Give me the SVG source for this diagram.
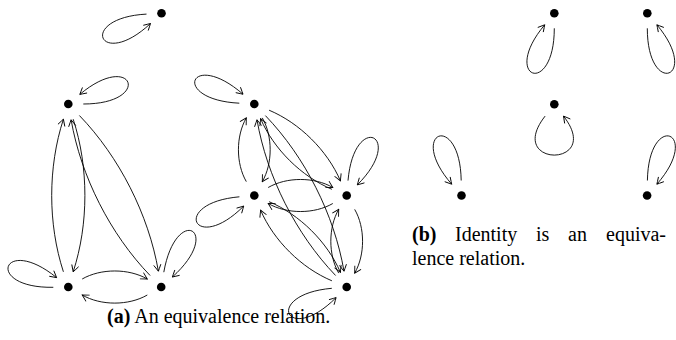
<svg xmlns="http://www.w3.org/2000/svg" width="676" height="340" viewBox="0 0 676 340">
<defs>
<marker id="ah" viewBox="-8 -5 9 10" markerWidth="9" markerHeight="10" refX="0" refY="0" orient="auto" markerUnits="userSpaceOnUse">
<path d="M-6.5,-3.6 Q-1.6,-0.9 0,0 Q-1.6,0.9 -6.5,3.6" fill="none" stroke="#000" stroke-width="0.9"/>
</marker>
<style>
.e{fill:none;stroke:#000;stroke-width:0.9;marker-end:url(#ah)}
.n{fill:#000}
.t{font-family:"Liberation Serif","Times New Roman",serif;font-size:20px;fill:#000}
.b{font-weight:bold}
</style>
</defs>
<rect width="676" height="340" fill="#fff"/>
<g id="nodes">
<g id="A"><circle class="n" cx="161.5" cy="13.3" r="4.3"/></g>
<g id="B"><circle class="n" cx="68.3" cy="104" r="4.3"/></g>
<g id="C"><circle class="n" cx="68.3" cy="287" r="4.3"/></g>
<g id="D"><circle class="n" cx="161.2" cy="287" r="4.3"/></g>
<g id="E"><circle class="n" cx="254.3" cy="104" r="4.3"/></g>
<g id="F"><circle class="n" cx="254.3" cy="195.5" r="4.3"/></g>
<g id="G"><circle class="n" cx="346.7" cy="195.5" r="4.3"/></g>
<g id="H"><circle class="n" cx="346.7" cy="287" r="4.3"/></g>
<g id="N1"><circle class="n" cx="554.3" cy="13.3" r="4.3"/></g>
<g id="N2"><circle class="n" cx="647.3" cy="13.3" r="4.3"/></g>
<g id="N3"><circle class="n" cx="554.3" cy="104.3" r="4.3"/></g>
<g id="N4"><circle class="n" cx="461.5" cy="195.5" r="4.3"/></g>
<g id="N5"><circle class="n" cx="647.1" cy="195.5" r="4.3"/></g>
</g>
<g id="connectors">
<path class="e" d="M73.2,119.2 C88.8,167.2 88.8,223.8 73.2,271.8"/>
<path class="e" d="M63.4,271.8 C47.8,223.8 47.8,167.2 63.4,119.2"/>
<path class="e" d="M82.2,279 C100.8,268.3 128.7,268.3 147.3,279"/>
<path class="e" d="M147.3,295 C128.7,305.8 100.8,305.8 82.2,295"/>
<path class="e" d="M79.4,115.5 C119.4,157 148.5,214.5 158.4,271.2"/>
<path class="e" d="M150.1,275.5 C110.1,234 81,176.5 71.1,119.8"/>
<path class="e" d="M262.3,117.9 C272.8,136.1 272.8,163.4 262.3,181.6"/>
<path class="e" d="M246.3,181.6 C235.8,163.4 235.8,136.1 246.3,117.9"/>
<path class="e" d="M354.7,209.4 C365.2,227.6 365.2,254.9 354.7,273.1"/>
<path class="e" d="M338.7,273.1 C328.2,254.9 328.2,227.6 338.7,209.4"/>
<path class="e" d="M268.2,187.5 C286.7,176.8 314.4,176.8 332.8,187.5"/>
<path class="e" d="M332.8,203.5 C314.4,214.2 286.7,214.2 268.2,203.5"/>
<path class="e" d="M269.1,110.2 C299.6,123 327.3,150.4 340.4,180.8"/>
<path class="e" d="M331.9,189.3 C301.4,176.5 273.7,149.1 260.6,118.7"/>
<path class="e" d="M269.1,201.7 C299.6,214.5 327.3,241.9 340.4,272.3"/>
<path class="e" d="M331.9,280.8 C301.4,268 273.7,240.6 260.6,210.2"/>
<path class="e" d="M265.4,115.6 C305.2,157.1 334.2,214.5 344,271.2"/>
<path class="e" d="M335.6,275.5 C295.8,233.9 266.8,176.5 257,119.8"/>
<path class="e" d="M146.5,14.1 C76.6,17.8 99.3,71.3 150.5,23.5"/>
<path class="e" d="M83.3,104 C153.3,104 133.4,49.4 79.8,94.4"/>
<path class="e" d="M53.3,287.3 C-16.7,288.5 2.3,233.5 56.6,277.6"/>
<path class="e" d="M163.8,272.2 C176,203.3 224.4,230.1 172.4,277"/>
<path class="e" d="M239.3,103.2 C169.4,99.6 190.2,48.2 243,94.2"/>
<path class="e" d="M239.4,196.8 C169.6,202.9 194.2,255.6 243.7,206.1"/>
<path class="e" d="M348,180.6 C354.1,110.8 406.8,135.4 357.3,184.9"/>
<path class="e" d="M331.8,288.3 C262,294.4 286.6,347.1 336.1,297.6"/>
<path class="e" d="M554.3,28.3 C554.3,98.3 499.7,78.4 544.7,24.8"/>
<path class="e" d="M647.3,28.3 C647.3,98.3 701.9,78.4 656.9,24.8"/>
<path class="e" d="M545.1,116.1 C504.4,168.1 604.2,168.1 563.5,116.1"/>
<path class="e" d="M461.2,180.5 C460,110.5 405.7,131.4 451.7,184.2"/>
<path class="e" d="M647.4,180.5 C648.6,110.5 702.9,131.4 656.9,184.2"/>
</g>
<g id="captions">
<text class="t" x="107" y="323"><tspan class="b">(a)</tspan> An equivalence relation.</text>
<text class="t" y="241"><tspan class="b" x="412">(b)</tspan><tspan x="455">Identity</tspan><tspan x="536">is</tspan><tspan x="568">an</tspan><tspan x="606">equiva-</tspan></text>
<text class="t" x="412" y="265">lence relation.</text>
</g>
</svg>
